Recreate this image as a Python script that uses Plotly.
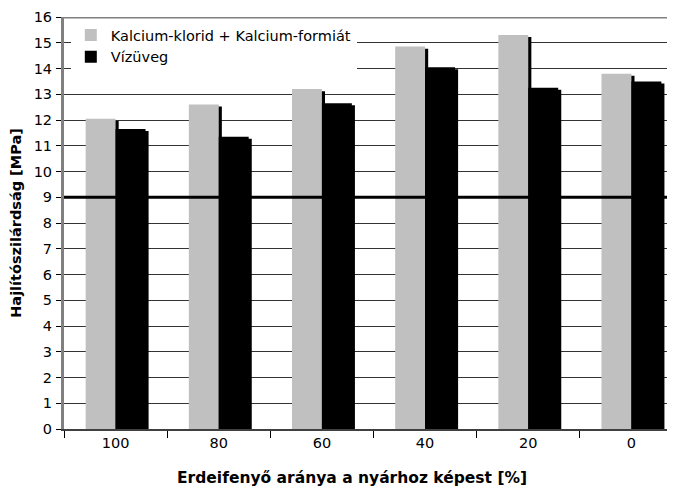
import plotly.graph_objects as go

categories = ["100", "80", "60", "40", "20", "0"]
kalcium = [12.05, 12.6, 13.2, 14.85, 15.3, 13.8]
vizuveg = [11.65, 11.35, 12.65, 14.05, 13.25, 13.5]
series_names = ["Kalcium-klorid + Kalcium-formiát", "Vízüveg"]
x_title = "Erdeifenyő aránya a nyárhoz képest [%]"
y_title = "Hajlítószilárdság [MPa]"
y_ticks = list(range(0, 17))
threshold = 9
y_top = 16

W = 0.29
SHADOW_DX = 0.03
SHADOW_DY = 0.08

fig = go.Figure()

# shadows
for vals, off in [(kalcium, -0.29), (vizuveg, 0.0)]:
    fig.add_trace(go.Bar(
        x=categories, y=[v - SHADOW_DY for v in vals], offset=off + SHADOW_DX, width=W,
        marker=dict(color="black", line=dict(width=0)), showlegend=False, hoverinfo="skip"))

fig.add_trace(go.Bar(x=categories, y=kalcium, name=series_names[0], offset=-0.29, width=W,
                     marker=dict(color="#c0c0c0", line=dict(width=0))))
fig.add_trace(go.Bar(x=categories, y=vizuveg, name=series_names[1], offset=0.0, width=W,
                     marker=dict(color="black", line=dict(width=0))))

fig.add_shape(type="line", xref="paper", yref="y", x0=0, x1=1, y0=threshold, y1=threshold,
              line=dict(color="black", width=3), layer="above")
fig.add_shape(type="line", xref="paper", yref="y", x0=0, x1=1, y0=y_top, y1=y_top,
              line=dict(color="#808080", width=3), layer="above")

fig.add_annotation(text="<b>" + x_title + "</b>", xref="paper", yref="paper", x=0.465, y=0,
                   yshift=-49, xanchor="center", yanchor="middle", showarrow=False,
                   font=dict(size=15.5, family="DejaVu Sans", color="black"))

fig.update_layout(
    width=675, height=489,
    margin=dict(l=56, r=0, t=9, b=68),
    barmode="overlay",
    plot_bgcolor="white", paper_bgcolor="white",
    font=dict(family="DejaVu Sans", size=14.5, color="black"),
    legend=dict(x=0.011, y=0.995, xanchor="left", yanchor="top", bgcolor="white",
                font=dict(size=14.5), traceorder="normal", tracegroupgap=0,
                itemwidth=30),
    xaxis=dict(
        type="category", range=[-0.5, 5.5], automargin=False,
        showline=True, linecolor="#404040", linewidth=2,
        ticks="outside", tickson="boundaries", ticklen=7, tickcolor="black",
        showgrid=False,
    ),
    yaxis=dict(
        range=[0, 16], tickvals=y_ticks, ticktext=[str(t) for t in y_ticks], automargin=False,
        showline=True, linecolor="#808080", linewidth=3,
        ticks="outside", ticklen=5, tickcolor="black", ticklabelstandoff=1,
        showgrid=True, gridcolor="#333333", gridwidth=1, zeroline=False,
        title=dict(text="<b>" + y_title + "</b>", font=dict(size=14.5), standoff=10),
    ),
)

fig.write_html("out.html")
